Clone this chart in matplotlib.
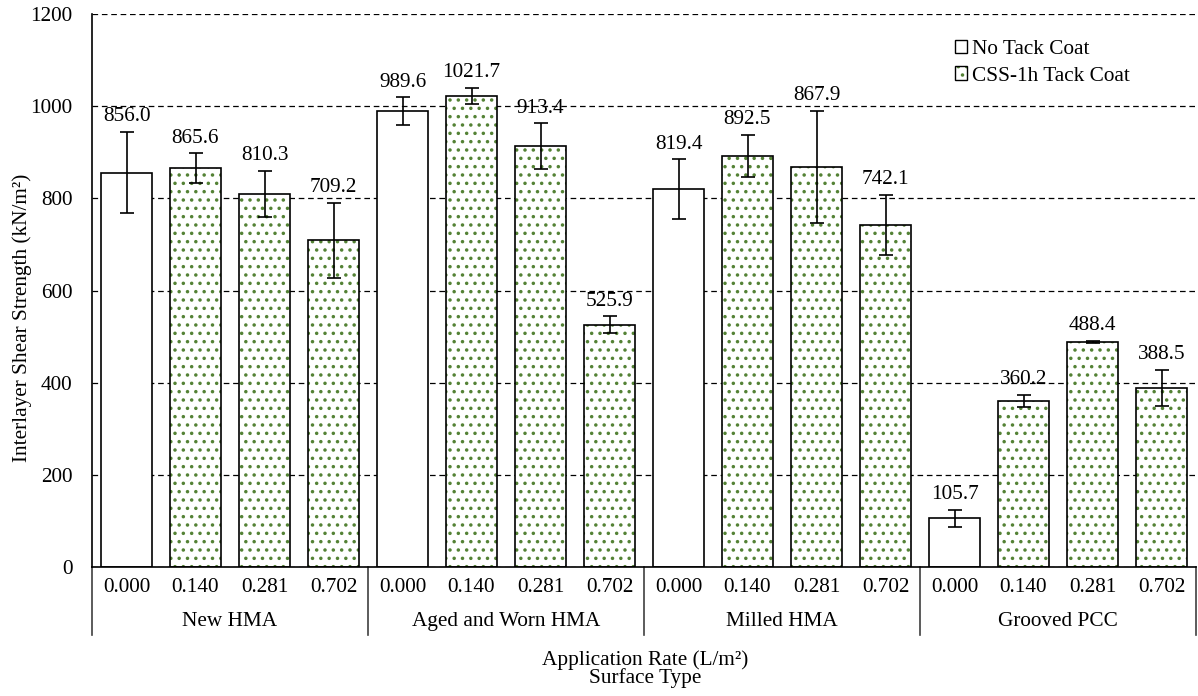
import matplotlib.pyplot as plt
from matplotlib.patches import Patch
from matplotlib.legend_handler import HandlerTuple
import numpy as np

plt.rcParams['font.family'] = ['Liberation Serif', 'DejaVu Serif']
plt.rcParams['font.size'] = 15.3
plt.rcParams['hatch.linewidth'] = 1.3

surfaces = ['New HMA', 'Aged and Worn HMA', 'Milled HMA', 'Grooved PCC']
rates = ['0.000', '0.140', '0.281', '0.702']
strength = [856.0, 865.6, 810.3, 709.2,
            989.6, 1021.7, 913.4, 525.9,
            819.4, 892.5, 867.9, 742.1,
            105.7, 360.2, 488.4, 388.5]
err = [88, 32, 50, 81,
       30, 18, 49, 18,
       65, 46, 122, 66,
       18, 14, 3, 40]

green = '#548235'

fig = plt.figure(figsize=(11.98, 6.96), dpi=100)
ax = fig.add_axes([92/1198, 129/696, 1104/1198, 553/696])

n = len(strength)
x = np.arange(n)
w = 0.75
tack = np.array([i % 4 != 0 for i in range(n)])
vals = np.array(strength)
errs = np.array(err)

ax.set_axisbelow(True)
ax.bar(x[~tack], vals[~tack], w, color='white', edgecolor='black', linewidth=1.2, zorder=2)
ax.bar(x[tack], vals[tack], w, color='white', edgecolor=green, linewidth=0, hatch='..', zorder=2)
ax.bar(x[tack], vals[tack], w, fill=False, edgecolor='black', linewidth=1.2, zorder=3)
ax.errorbar(x, vals, yerr=errs, fmt='none', ecolor='black', elinewidth=1.2, capsize=5, capthick=1.2, zorder=4)

for xi, v, e in zip(x, vals, errs):
    ax.annotate(f'{v:.1f}', (xi, v + e), xytext=(0, 4), textcoords='offset points',
                ha='center', va='bottom')

ax.set_xlim(-0.5, n - 0.5)
ax.set_ylim(0, 1200)
ax.set_yticks(np.arange(0, 1201, 200))
ax.yaxis.grid(True, linestyle=(0, (4.5, 3)), color='black', linewidth=0.9)
ax.set_xticks(x)
ax.set_xticklabels(rates * 4)
ax.tick_params(axis='x', length=0, pad=8)
ax.tick_params(axis='y', length=0, pad=14)
for s in ['top', 'right']:
    ax.spines[s].set_visible(False)
ax.spines['left'].set_linewidth(1.2)
ax.spines['bottom'].set_linewidth(1.2)

trans = ax.get_xaxis_transform()
for k in range(5):
    xs = k * 4 - 0.5
    ax.plot([xs, xs], [0, -0.123], color='#404040', linewidth=1.2, transform=trans, clip_on=False)
for k, name in enumerate(surfaces):
    ax.text(k * 4 + 1.5, -0.098, name, ha='center', va='center', transform=trans)

fig.text(22/1198, 1 - 318/696, 'Interlayer Shear Strength (kN/m²)', rotation=90, ha='center', va='center')
fig.text(0.5 + 46/1198, 1 - 660/696, 'Application Rate (L/m²)', ha='center', va='center')
fig.text(0.5 + 46/1198, 1 - 678/696, 'Surface Type', ha='center', va='center')

h1 = Patch(facecolor='white', edgecolor='black', linewidth=1)
h2a = Patch(facecolor='white', edgecolor=green, linewidth=0, hatch='..')
h2b = Patch(fill=False, edgecolor='black', linewidth=1)
ax.legend([h1, (h2a, h2b)], ['No Tack Coat', 'CSS-1h Tack Coat'],
          handler_map={tuple: HandlerTuple(ndivide=1, pad=0)},
          loc='upper right', bbox_to_anchor=(0.957, 0.988), frameon=False,
          handlelength=0.6, handleheight=0.6, handletextpad=0.2, labelspacing=0.35)

fig.savefig('out.png', dpi=100)
